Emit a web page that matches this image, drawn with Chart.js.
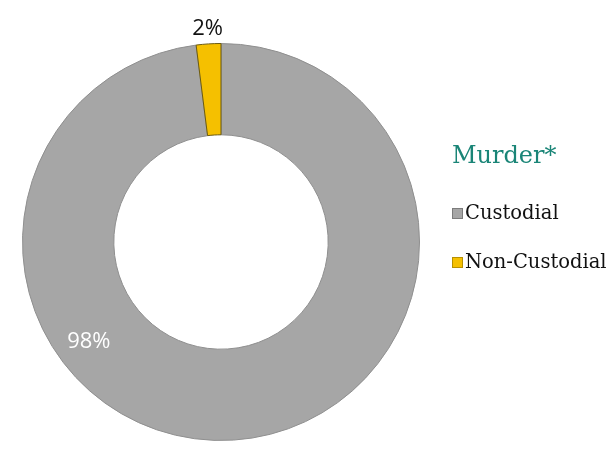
<!DOCTYPE html>
<html><head><meta charset="utf-8">
<script src="https://cdn.jsdelivr.net/npm/chart.js@4"></script>
<style>html,body{margin:0;padding:0;background:#fff;}#wrap{width:611px;height:468px;position:relative;}</style>
</head><body><div id="wrap"><canvas id="c"></canvas></div>
<script>
const categories = ["Custodial", "Non-Custodial"];
const values = [98, 2];
const valueLabels = ["98%", "2%"];
const title = "Murder*";
const colors = ["#a6a6a6", "#f5c000"];

const labelPlugin = {
  id: 'labelsAndLegend',
  afterDraw(chart) {
    const ctx = chart.ctx;
    const meta = chart.getDatasetMeta(0);
    ctx.save();
    ctx.font = '22px "Open Sans", sans-serif';
    ctx.textAlign = 'center';
    ctx.textBaseline = 'middle';
    meta.data.forEach((arc, i) => {
      const p = arc.getProps(['x','y','startAngle','endAngle','innerRadius','outerRadius'], true);
      let ang, r, col;
      if (i === 1) { ang = (p.startAngle + p.endAngle) / 2; r = p.outerRadius + 15; col = '#111'; }
      else { ang = p.startAngle + (p.endAngle - p.startAngle) * 0.66; r = (p.innerRadius + p.outerRadius) / 2 + 13; col = '#ffffff'; }
      ctx.fillStyle = col;
      ctx.fillText(valueLabels[i], p.x + Math.cos(ang) * r, p.y + Math.sin(ang) * r);
    });
    ctx.textAlign = 'left';
    ctx.textBaseline = 'middle';
    ctx.fillStyle = '#1a8577';
    ctx.font = '24px "DejaVu Serif", serif';
    ctx.fillText(title, 452, 157);
    ctx.font = '19.5px "DejaVu Serif", serif';
    const ys = [214, 263];
    categories.forEach((c, i) => {
      ctx.fillStyle = colors[i];
      ctx.fillRect(452, ys[i] - 6, 11, 11);
      ctx.strokeStyle = 'rgba(0,0,0,0.25)';
      ctx.lineWidth = 1;
      ctx.strokeRect(452.5, ys[i] - 5.5, 10, 10);
      ctx.fillStyle = '#111';
      ctx.fillText(c, 465, ys[i]);
    });
    ctx.restore();
  }
};

new Chart(document.getElementById('c'), {
  type: 'doughnut',
  data: {
    labels: categories,
    datasets: [{
      data: values,
      backgroundColor: colors,
      borderColor: ['#8f8f8f', '#6b5a10'],
      borderWidth: 1,
      hoverOffset: 0
    }]
  },
  options: {
    responsive: true,
    maintainAspectRatio: false,
    animation: false,
    cutout: '54%',
    layout: { padding: { left: 22, right: 191, top: 43, bottom: 27 } },
    plugins: { legend: { display: false }, tooltip: { enabled: false } }
  },
  plugins: [labelPlugin]
});
</script></body></html>
